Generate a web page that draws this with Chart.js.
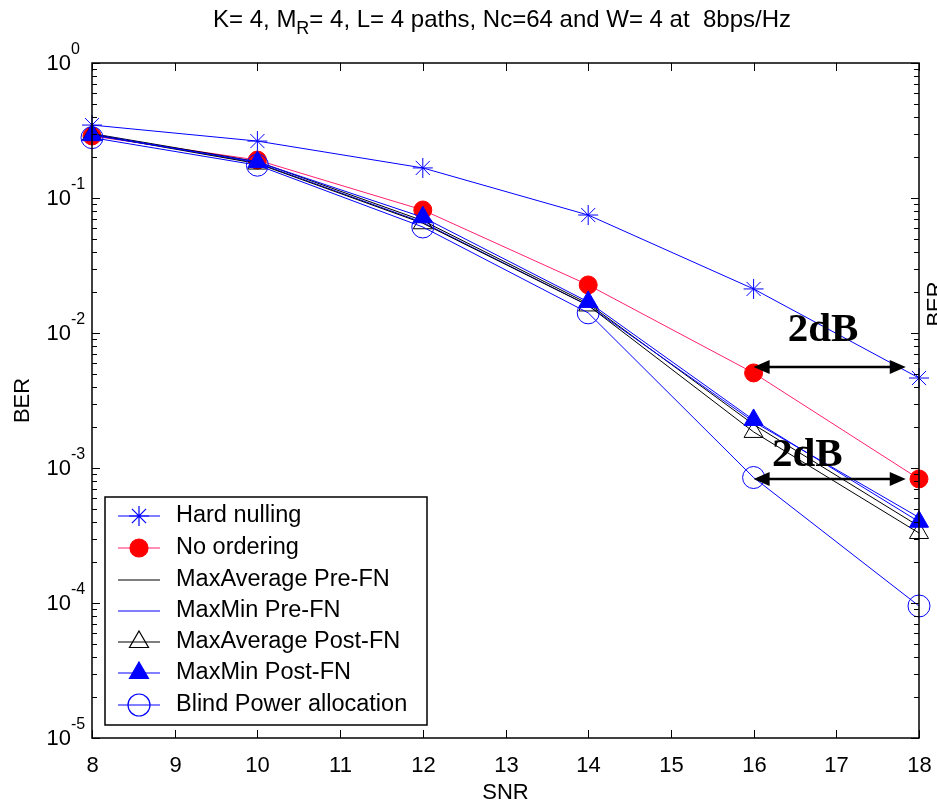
<!DOCTYPE html>
<html>
<head>
<meta charset="utf-8">
<script src="https://cdn.jsdelivr.net/npm/chart.js@4.4.1/dist/chart.umd.min.js"></script>
<style>
  html, body { margin: 0; padding: 0; background: #fff; }
  #wrap { width: 937px; height: 805px; }
</style>
</head>
<body>
<div id="wrap"><canvas id="berChart" width="937" height="805"></canvas></div>
<script>
const snr = [8, 10, 12, 14, 16, 18];
const xTicks = [8, 9, 10, 11, 12, 13, 14, 15, 16, 17, 18];
const yDecades = [0, -1, -2, -3, -4, -5];

const hardNulling   = [0.347, 0.264, 0.167, 0.0748, 0.0212, 0.00464];
const noOrdering    = [0.288, 0.191, 0.0815, 0.0227, 0.00506, 0.00083];
const maxAvgPre     = [0.300, 0.186, 0.068, 0.0165, 0.0021, 0.00037];
const maxMinPre     = [0.298, 0.182, 0.066, 0.0160, 0.0022, 0.00043];
const maxAvgPost    = [0.295, 0.180, 0.065, 0.0160, 0.00185, 0.00033];
const maxMinPost    = [0.292, 0.185, 0.072, 0.0170, 0.00227, 0.00040];
const blindPower    = [0.280, 0.175, 0.061, 0.0141, 0.00085, 0.000095];

const seriesNames = ['Hard nulling', 'No ordering', 'MaxAverage Pre-FN', 'MaxMin Pre-FN',
                     'MaxAverage Post-FN', 'MaxMin Post-FN', 'Blind Power allocation'];

// 2dB annotations: [x from, x to, y level, label x, label y]
const arrows = [
    [16, 17.84, 0.0056, 16.84, 0.0105],
    [16, 17.84, 0.00083, 16.65, 0.00125]
];

const BLUE = '#0000ff';
const RED = '#ff0000';
const PINK = '#ff2070';

function pts(vals) {
    return vals.map((v, i) => ({ x: snr[i], y: v }));
}

const datasets = [
    { label: seriesNames[0], data: pts(hardNulling), borderColor: BLUE, pointStyle: 'star',
      pointRadius: 10, pointBorderColor: BLUE, pointBackgroundColor: BLUE, pointBorderWidth: 1 },
    { label: seriesNames[1], data: pts(noOrdering), borderColor: PINK, pointStyle: 'circle',
      pointRadius: 9, pointBorderColor: RED, pointBackgroundColor: RED, pointBorderWidth: 1 },
    { label: seriesNames[2], data: pts(maxAvgPre), borderColor: '#000000', pointRadius: 0 },
    { label: seriesNames[3], data: pts(maxMinPre), borderColor: BLUE, pointRadius: 0 },
    { label: seriesNames[4], data: pts(maxAvgPost), borderColor: '#000000', pointStyle: 'triangle',
      pointRadius: 11, pointBorderColor: '#000000', pointBackgroundColor: 'rgba(0,0,0,0)', pointBorderWidth: 1 },
    { label: seriesNames[5], data: pts(maxMinPost), borderColor: BLUE, pointStyle: 'triangle',
      pointRadius: 11, pointBorderColor: BLUE, pointBackgroundColor: BLUE, pointBorderWidth: 1 },
    { label: seriesNames[6], data: pts(blindPower), borderColor: BLUE, pointStyle: 'circle',
      pointRadius: 11, pointBorderColor: BLUE, pointBackgroundColor: 'rgba(0,0,0,0)', pointBorderWidth: 1 }
];
datasets.forEach((d, i) => {
    d.borderWidth = 1;
    d.fill = false;
    d.tension = 0;
    d.clip = false;
    d.order = 10 - i; // later series drawn on top, like MATLAB
});

const FONT = '"Liberation Sans", Arial, Helvetica, sans-serif';

const matlabAxes = {
    id: 'matlabAxes',
    afterDatasetsDraw(chart) {
        const ctx = chart.ctx;
        const a = chart.chartArea;
        const xs = chart.scales.x;
        const ys = chart.scales.y;
        ctx.save();

        // axes box
        ctx.strokeStyle = '#000';
        ctx.lineWidth = 1.5;
        ctx.strokeRect(a.left, a.top, a.right - a.left, a.bottom - a.top);

        // x ticks + labels
        ctx.lineWidth = 1;
        ctx.fillStyle = '#000';
        ctx.font = '22px ' + FONT;
        ctx.textAlign = 'center';
        ctx.textBaseline = 'middle';
        xTicks.forEach(t => {
            const px = Math.round(xs.getPixelForValue(t)) + 0.5;
            ctx.beginPath();
            ctx.moveTo(px, a.bottom); ctx.lineTo(px, a.bottom - 8);
            ctx.moveTo(px, a.top); ctx.lineTo(px, a.top + 8);
            ctx.stroke();
            ctx.fillText(String(t), px, a.bottom + 28);
        });

        // y ticks (log, with minor ticks) + labels
        yDecades.forEach(e => {
            const base = Math.pow(10, e);
            const py = Math.round(ys.getPixelForValue(base)) + 0.5;
            ctx.beginPath();
            ctx.moveTo(a.left, py); ctx.lineTo(a.left + 8, py);
            ctx.moveTo(a.right, py); ctx.lineTo(a.right - 8, py);
            ctx.stroke();
            if (e < 0) {
                for (let m = 2; m <= 9; m++) {
                    const my = Math.round(ys.getPixelForValue(m * base)) + 0.5;
                    ctx.beginPath();
                    ctx.moveTo(a.left, my); ctx.lineTo(a.left + 5, my);
                    ctx.moveTo(a.right, my); ctx.lineTo(a.right - 5, my);
                    ctx.stroke();
                }
            }
            ctx.font = '22px ' + FONT;
            ctx.textAlign = 'right';
            ctx.textBaseline = 'middle';
            ctx.fillText('10', a.left - 21, py);
            ctx.font = '16px ' + FONT;
            ctx.textAlign = 'left';
            ctx.fillText(String(e), a.left - 21, py - 14);
        });

        // title with subscript
        ctx.textBaseline = 'alphabetic';
        ctx.textAlign = 'left';
        const t1 = 'K= 4, M', t2 = 'R', t3 = '= 4, L= 4 paths, Nc=64 and W= 4 at  8bps/Hz';
        ctx.font = '24px ' + FONT;
        const w1 = ctx.measureText(t1).width, w3 = ctx.measureText(t3).width;
        ctx.font = '18px ' + FONT;
        const w2 = ctx.measureText(t2).width;
        let tx = 502 - (w1 + w2 + w3) / 2;
        const ty = 27;
        ctx.font = '24px ' + FONT;
        ctx.fillText(t1, tx, ty); tx += w1;
        ctx.font = '18px ' + FONT;
        ctx.fillText(t2, tx, ty + 7); tx += w2;
        ctx.font = '24px ' + FONT;
        ctx.fillText(t3, tx, ty);

        // axis labels
        ctx.font = '22px ' + FONT;
        ctx.textAlign = 'center';
        ctx.textBaseline = 'middle';
        ctx.fillText('SNR', (a.left + a.right) / 2, 793);
        ctx.save();
        ctx.translate(23, (a.top + a.bottom) / 2);
        ctx.rotate(-Math.PI / 2);
        ctx.fillText('BER', 0, 0);
        ctx.restore();
        ctx.save();
        ctx.translate(936, 304);
        ctx.rotate(-Math.PI / 2);
        ctx.fillText('BER', 0, 0);
        ctx.restore();

        // 2dB arrows
        arrows.forEach(([x0, x1, yv, lx, ly]) => {
            const px0 = xs.getPixelForValue(x0), px1 = xs.getPixelForValue(x1);
            const py = ys.getPixelForValue(yv);
            ctx.strokeStyle = '#000';
            ctx.fillStyle = '#000';
            ctx.lineWidth = 2.5;
            ctx.beginPath();
            ctx.moveTo(px0 + 12, py); ctx.lineTo(px1 - 12, py);
            ctx.stroke();
            [[px0, 1], [px1, -1]].forEach(([hx, dir]) => {
                ctx.beginPath();
                ctx.moveTo(hx, py);
                ctx.lineTo(hx + dir * 16, py - 7);
                ctx.lineTo(hx + dir * 16, py + 7);
                ctx.closePath();
                ctx.fill();
            });
            ctx.font = 'bold 41px "Liberation Serif", "Times New Roman", serif';
            ctx.textAlign = 'center';
            ctx.textBaseline = 'middle';
            ctx.fillText('2dB', xs.getPixelForValue(lx), ys.getPixelForValue(ly));
        });

        // legend
        const lx0 = 105, ly0 = 497, lw = 322, lh = 228;
        ctx.fillStyle = '#fff';
        ctx.fillRect(lx0, ly0, lw, lh);
        ctx.strokeStyle = '#000';
        ctx.lineWidth = 1.5;
        ctx.strokeRect(lx0, ly0, lw, lh);
        const rowY = [516, 548, 580, 611, 642, 673, 705];
        chart.data.datasets.forEach((d, i) => {
            const y = rowY[i];
            ctx.strokeStyle = d.borderColor;
            ctx.lineWidth = 1.2;
            ctx.beginPath();
            ctx.moveTo(118, y); ctx.lineTo(160, y);
            ctx.stroke();
            if (d.pointRadius > 0) {
                ctx.strokeStyle = d.pointBorderColor;
                ctx.fillStyle = d.pointBackgroundColor;
                Chart.helpers.drawPoint(ctx, {
                    pointStyle: d.pointStyle, radius: d.pointRadius,
                    rotation: 0, borderWidth: d.pointBorderWidth
                }, 139, y);
            }
            ctx.fillStyle = '#000';
            ctx.font = '23.5px ' + FONT;
            ctx.textAlign = 'left';
            ctx.textBaseline = 'middle';
            ctx.fillText(d.label, 176, y);
        });

        ctx.restore();
    }
};

new Chart(document.getElementById('berChart').getContext('2d'), {
    type: 'line',
    data: { datasets: datasets },
    options: {
        responsive: false,
        animation: false,
        layout: { padding: { left: 92, right: 18, top: 63, bottom: 67 } },
        plugins: { legend: { display: false }, tooltip: { enabled: false }, title: { display: false } },
        scales: {
            x: { type: 'linear', min: 8, max: 18, display: false },
            y: { type: 'logarithmic', min: 1e-5, max: 1, display: false }
        }
    },
    plugins: [matlabAxes]
});
</script>
</body>
</html>
